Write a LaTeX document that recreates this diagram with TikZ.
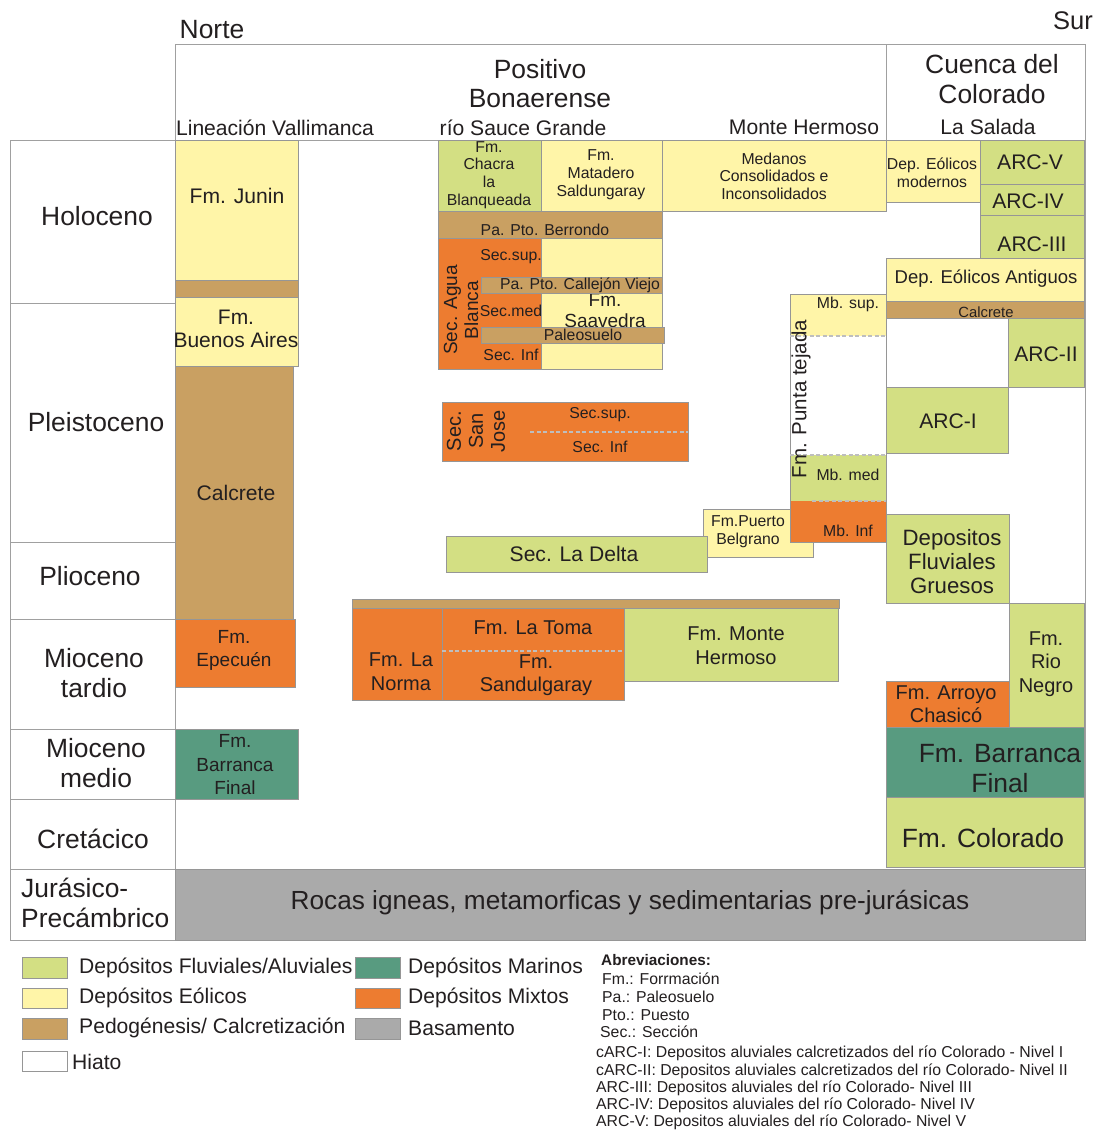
\documentclass[tikz,border=0pt]{standalone}
\usepackage{fontspec}
\setmainfont{Liberation Sans}
\definecolor{fluv}{RGB}{211,223,131}
\definecolor{eol}{RGB}{255,245,168}
\definecolor{pedo}{RGB}{201,160,98}
\definecolor{mar}{RGB}{88,155,128}
\definecolor{mix}{RGB}{237,124,48}
\definecolor{basec}{RGB}{170,170,170}
\definecolor{bordc}{RGB}{150,150,150}
\definecolor{framec}{RGB}{160,160,160}
\definecolor{txtc}{RGB}{35,31,32}
\definecolor{dashc}{RGB}{190,190,190}
\newcommand\fs[2]{\fontsize{#1}{#2}\selectfont}
\tikzset{
  blk/.style={draw=bordc, line width=1pt},
  frame/.style={draw=framec, line width=1pt},
  lbl/.style={inner sep=0pt, align=center, text=txtc},
  lblw/.style={inner sep=0pt, align=left, anchor=west, text=txtc},
  dsh/.style={draw=dashc, line width=1.8pt, dash pattern=on 4pt off 2.5pt},
}
\begin{document}
\begin{tikzpicture}[x=1pt,y=-1pt]
\useasboundingbox[fill=white] (0,0) rectangle (1099,1130);

% ---------- frame ----------
\draw[frame] (175,44) -- (1085,44) -- (1085,940) -- (10,940) -- (10,140) -- (1085,140);
\draw[frame] (175,44) -- (175,940);
\draw[frame] (886,44) -- (886,140);
\foreach \yy in {303,542,619,729,799,869} \draw[frame] (10,\yy) -- (175,\yy);

% ---------- header ----------
\node[lbl, font=\fs{26.4}{28}] (norte) at (212,30) {Norte};
\node[lbl, font=\fs{25.5}{28}] (sur) at (1073,21) {Sur};
\node[lbl, font=\fs{26.4}{29}] (positivo) at (540,84) {Positivo\\Bonaerense};
\node[lbl, font=\fs{26.4}{30}] (cuenca) at (992,79) {Cuenca del\\Colorado};
\node[lbl, font=\fs{21.1}{24}] (vallimanca) at (275,128) {Lineación Vallimanca};
\node[lbl, font=\fs{21.1}{24}] (sauce) at (523,128) {río Sauce Grande};
\node[lbl, font=\fs{21.1}{24}] (montehdr) at (804,127) {Monte Hermoso};
\node[lbl, font=\fs{21.1}{24}] (salada) at (988,127) {La Salada};

% ---------- epochs ----------
\node[lbl, font=\fs{26.4}{30}] (holo) at (97,216) {Holoceno};
\node[lbl, font=\fs{26.4}{30}] (pleisto) at (96,422) {Pleistoceno};
\node[lbl, font=\fs{26.4}{30}] (plio) at (90,576) {Plioceno};
\node[lbl, font=\fs{26.4}{30}] (miot) at (94,673) {Mioceno\\tardio};
\node[lbl, font=\fs{26.4}{30}] (miom) at (96,763) {Mioceno\\medio};
\node[lbl, font=\fs{26.4}{30}] (creta) at (93,839) {Cretácico};
\node[lblw, font=\fs{26.4}{30}] (jura) at (21,903) {Jurásico-\\Precámbrico};

% ---------- Lineación Vallimanca ----------
\draw[blk, fill=eol] (175,140) rectangle (298,280);
\node[lbl, font=\fs{21.1}{24}] (junin) at (237,196) {Fm. Junin};
\draw[blk, fill=pedo] (175,280) rectangle (298,297);
\draw[blk, fill=eol] (175,297) rectangle (298,366);
\node[lbl, font=\fs{21}{23}] (bsas) at (236,329) {Fm.\\Buenos Aires};
\draw[blk, fill=pedo] (175,366) rectangle (293,619);
\node[lbl, font=\fs{21.1}{24}] (calcl) at (236,493) {Calcrete};
\draw[blk, fill=mix] (175,619) rectangle (295,687);
\node[lbl, font=\fs{19}{23}] (epecuen) at (234,650) {Fm.\\Epecuén};
\draw[blk, fill=mar] (175,729) rectangle (298,799);
\node[lbl, font=\fs{19}{23.5}] (bfl) at (235,765) {Fm.\\Barranca\\Final};

% ---------- río Sauce Grande ----------
\draw[blk, fill=fluv] (438,140) rectangle (541,211);
\node[lbl, font=\fs{15.8}{17.7}] (chacra) at (489,175) {Fm.\\Chacra\\la\\Blanqueada};
\draw[blk, fill=eol] (541,140) rectangle (662,211);
\node[lbl, font=\fs{15.8}{18}] (matadero) at (601,175) {Fm.\\Matadero\\Saldungaray};
\draw[blk, fill=eol] (662,140) rectangle (886,211);
\node[lbl, font=\fs{15.8}{17.5}] (medanos) at (774,176) {Medanos\\Consolidados e\\Inconsolidados};
\draw[blk, fill=pedo] (438,211) rectangle (662,238);
\node[lbl, font=\fs{15.8}{18}] (berrondo) at (545,230) {Pa. Pto. Berrondo};
\draw[blk, fill=mix] (438,238) rectangle (541,369);
\draw[blk, fill=eol] (541,238) rectangle (662,369);
\node[lbl, font=\fs{19}{21}] (saavedra) at (605,311) {Fm.\\Saavedra};
\draw[blk, fill=pedo] (481,277) rectangle (662,293);
\node[lbl, font=\fs{15.8}{18}] (callejon) at (580,285) {Pa. Pto. Callejón Viejo};
\draw[blk, fill=pedo] (481,327) rectangle (664,343);
\node[lbl, font=\fs{15.8}{18}] (paleo) at (583,335) {Paleosuelo};
\node[lbl, font=\fs{15.8}{18}] (absup) at (511,257) {Sec.sup.};
\node[lbl, font=\fs{15.8}{18}] (abmed) at (511,311) {Sec.med};
\node[lbl, font=\fs{15.8}{18}] (abinf) at (511,355) {Sec. Inf};
\node[lbl, font=\fs{19}{21}, rotate=90] (agua) at (461,310) {Sec. Agua\\Blanca};

% ---------- Sec. San Jose ----------
\draw[blk, fill=mix] (442,402) rectangle (688,461);
\draw[dsh] (530,432) -- (688,432);
\node[lbl, font=\fs{15.8}{18}] (sjsup) at (600,415) {Sec.sup.};
\node[lbl, font=\fs{15.8}{18}] (sjinf) at (600,447) {Sec. Inf};
\node[lbl, font=\fs{20}{22}, rotate=90] (sanjose) at (476,431) {Sec.\\San\\Jose};

% ---------- Puerto Belgrano / La Delta ----------
\draw[blk, fill=eol] (703,509) rectangle (813,557);
\node[lbl, font=\fs{15.8}{18}] (belgrano) at (748,532) {Fm.Puerto\\Belgrano};
\draw[blk, fill=fluv] (446,536) rectangle (707,572);
\node[lbl, font=\fs{21.1}{24}] (delta) at (574,554) {Sec. La Delta};

% ---------- Fm. Punta tejada ----------
\fill[white] (790,294) rectangle (886,542);
\fill[eol] (790,294) rectangle (886,336);
\fill[fluv] (790,455) rectangle (886,501);
\fill[mix] (790,501) rectangle (886,542);
\draw[blk] (790,336) -- (790,294) -- (886,294) -- (886,542) -- (790,542) -- (790,336);
\draw[dsh] (790,336) -- (886,336);
\draw[dsh] (790,455) -- (886,455);
\draw[dsh] (812,501) -- (886,501);
\node[lbl, font=\fs{15.8}{18}] (mbsup) at (848,304) {Mb. sup.};
\node[lbl, font=\fs{15.8}{18}] (mbmed) at (848,475) {Mb. med};
\node[lbl, font=\fs{15.8}{18}] (mbinf) at (848,531) {Mb. Inf};
\node[lbl, font=\fs{20.5}{24}, rotate=90] (punta) at (801,399) {Fm. Punta tejada};

% ---------- Cuenca del Colorado ----------
\draw[blk, fill=eol] (886,140) rectangle (980,202);
\node[lbl, font=\fs{15.8}{18}] (eolmod) at (932,173) {Dep. Eólicos\\modernos};
\draw[blk, fill=fluv] (980,140) rectangle (1084,184);
\node[lbl, font=\fs{21.1}{24}] (arcv) at (1030,162) {ARC-V};
\draw[blk, fill=fluv] (980,184) rectangle (1084,215);
\node[lbl, font=\fs{21.1}{24}] (arciv) at (1028,201) {ARC-IV};
\draw[blk, fill=fluv] (980,215) rectangle (1084,258);
\node[lbl, font=\fs{21.1}{24}] (arciii) at (1032,244) {ARC-III};
\draw[blk, fill=eol] (886,258) rectangle (1084,301);
\node[lbl, font=\fs{18.5}{21}] (eolant) at (986,279) {Dep. Eólicos Antiguos};
\draw[blk, fill=pedo] (886,301) rectangle (1084,318);
\node[lbl, font=\fs{14.8}{17}] (calcr) at (986,312) {Calcrete};
\draw[blk, fill=fluv] (1008,318) rectangle (1084,387);
\node[lbl, font=\fs{21.1}{24}] (arcii) at (1046,354) {ARC-II};
\draw[blk, fill=fluv] (886,387) rectangle (1008,453);
\node[lbl, font=\fs{21.1}{24}] (arci) at (948,421) {ARC-I};
\draw[blk, fill=fluv] (886,514) rectangle (1009,603);
\node[lbl, font=\fs{22.2}{24}] (gruesos) at (952,562) {Depositos\\Fluviales\\Gruesos};
\draw[blk, fill=fluv] (1009,603) rectangle (1084,727);
\node[lbl, font=\fs{20}{23.5}] (rionegro) at (1046,664) {Fm.\\Rio\\Negro};
\draw[blk, fill=mix] (886,681) rectangle (1009,727);
\node[lbl, font=\fs{20}{23}] (chasico) at (946,704) {Fm. Arroyo\\Chasicó};
\draw[blk, fill=mar] (886,727) rectangle (1084,797);
\node[lbl, font=\fs{26.4}{30}] (bfr) at (1000,769) {Fm. Barranca\\Final};
\draw[blk, fill=fluv] (886,797) rectangle (1084,867);
\node[lbl, font=\fs{26.4}{30}] (colorado) at (983,838) {Fm. Colorado};

% ---------- Mioceno tardío central ----------
\draw[blk, fill=pedo] (352,599) rectangle (839,608);
\draw[blk, fill=mix] (352,608) rectangle (442,700);
\node[lbl, font=\fs{20}{24}] (norma) at (401,672) {Fm. La\\Norma};
\draw[blk, fill=mix] (442,608) rectangle (624,700);
\draw[dsh] (442,651) -- (624,651);
\node[lbl, font=\fs{20}{23}] (toma) at (533,628) {Fm. La Toma};
\node[lbl, font=\fs{20}{23}] (sandul) at (536,675) {Fm.\\Sandulgaray};
\draw[blk, fill=fluv] (624,608) rectangle (838,681);
\node[lbl, font=\fs{20}{24}] (montehf) at (736,646) {Fm. Monte\\Hermoso};

% ---------- basement ----------
\draw[blk, fill=basec] (175,869) rectangle (1085,940);
\node[lbl, font=\fs{26.2}{28}] (rocas) at (630,903) {Rocas igneas, metamorficas y sedimentarias pre-jurásicas};

% ---------- legend ----------
\draw[blk, fill=fluv] (22,957) rectangle (67,978);
\draw[blk, fill=eol] (22,988) rectangle (67,1008);
\draw[blk, fill=pedo] (22,1018) rectangle (67,1039);
\draw[blk, fill=white] (22,1051) rectangle (67,1071);
\draw[blk, fill=mar] (355,957) rectangle (400,978);
\draw[blk, fill=mix] (355,988) rectangle (400,1008);
\draw[blk, fill=basec] (355,1018) rectangle (400,1039);
\node[lblw, font=\fs{21.1}{24}] (lgfluv) at (79,968) {Depósitos Fluviales/Aluviales};
\node[lblw, font=\fs{21.1}{24}] (lgeol) at (79,998) {Depósitos Eólicos};
\node[lblw, font=\fs{21.1}{24}] (lgpedo) at (79,1028) {Pedogénesis/ Calcretización};
\node[lblw, font=\fs{21.1}{24}] (lghiato) at (72,1062) {Hiato};
\node[lblw, font=\fs{21.1}{24}] (lgmar) at (408,968) {Depósitos Marinos};
\node[lblw, font=\fs{21.1}{24}] (lgmix) at (408,998) {Depósitos Mixtos};
\node[lblw, font=\fs{21.1}{24}] (lgbase) at (408,1028) {Basamento};

% ---------- abbreviations ----------
\node[lblw, font=\fs{15.3}{17}\bfseries] (abrev) at (601,960) {Abreviaciones:};
\node[lblw, font=\fs{15.8}{17}] (ab1) at (602,979) {Fm.: Forrmación};
\node[lblw, font=\fs{15.8}{17}] (ab2) at (602,997) {Pa.: Paleosuelo};
\node[lblw, font=\fs{15.8}{17}] (ab3) at (602,1015) {Pto.: Puesto};
\node[lblw, font=\fs{15.8}{17}] (ab4) at (600,1032) {Sec.: Sección};
\node[lblw, font=\fs{15.8}{17}] (ab5) at (596,1053) {cARC-I: Depositos aluviales calcretizados del río Colorado - Nivel I};
\node[lblw, font=\fs{15.8}{17}] (ab6) at (596,1071) {cARC-II: Depositos aluviales calcretizados del río Colorado- Nivel II};
\node[lblw, font=\fs{15.8}{17}] (ab7) at (596,1088) {ARC-III: Depositos aluviales del río Colorado- Nivel III};
\node[lblw, font=\fs{15.8}{17}] (ab8) at (596,1105) {ARC-IV: Depositos aluviales del río Colorado- Nivel IV};
\node[lblw, font=\fs{15.8}{17}] (ab9) at (596,1122) {ARC-V: Depositos aluviales del río Colorado- Nivel V};
\end{tikzpicture}
\end{document}
